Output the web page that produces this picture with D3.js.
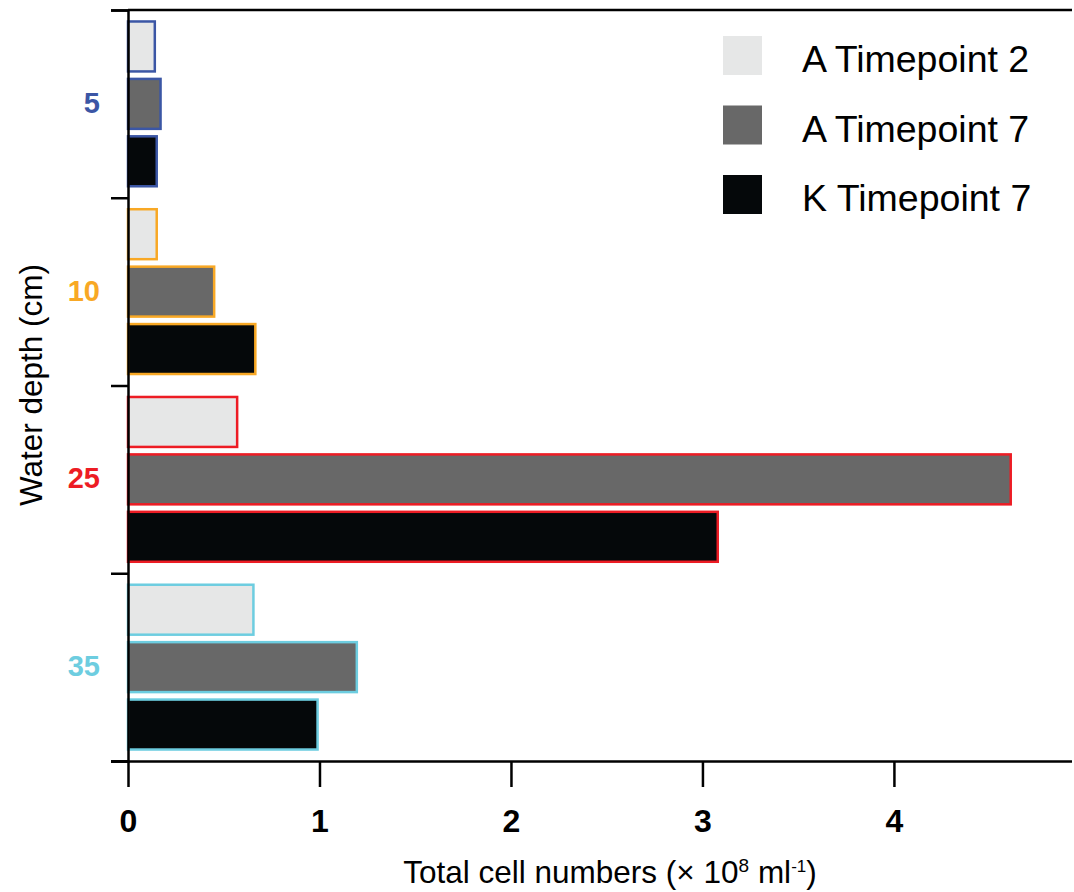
<!DOCTYPE html>
<html>
<head>
<meta charset="utf-8">
<script src="https://cdn.jsdelivr.net/npm/d3@7"></script>
<style>
  html, body { margin: 0; padding: 0; background: #fff; }
  svg { display: block; font-family: "Liberation Sans", Arial, Helvetica, sans-serif; }
</style>
</head>
<body>
<svg id="chart" width="1074" height="892"></svg>
<script>
// Water depth groups (cm) and their outline colours
const depths = ["5", "10", "25", "35"];
const depthColors = ["#3b56a5", "#f8a825", "#ed1c24", "#6dcde0"];

// Series
const seriesNames = ["A Timepoint 2", "A Timepoint 7", "K Timepoint 7"];
const seriesFills = ["#e6e7e7", "#686868", "#05080a"];

// Total cell numbers (x 10^8 per ml), one array per series, ordered as depths
const aTimepoint2 = [0.14, 0.15, 0.57, 0.655];
const aTimepoint7 = [0.17, 0.45, 4.61, 1.195];
const kTimepoint7 = [0.15, 0.665, 3.08, 0.99];
const seriesValues = [aTimepoint2, aTimepoint7, kTimepoint7];

const xTicks = [0, 1, 2, 3, 4];

const svg = d3.select("#chart");
const plotLeft = 128, plotRight = 1072, plotTop = 10, plotBottom = 761;

const x = d3.scaleLinear().domain([0, 4.93]).range([plotLeft, plotRight]);
const y = d3.scaleBand().domain(depths).range([plotTop, plotBottom]).padding(0);
const ySub = d3.scaleBand().domain(seriesNames).range([0, y.bandwidth()])
  .paddingInner(0.13).paddingOuter(0.2);
const color = d3.scaleOrdinal().domain(depths).range(depthColors);
const fill = d3.scaleOrdinal().domain(seriesNames).range(seriesFills);

// Bars
const rows = [];
depths.forEach((d, i) => {
  seriesNames.forEach((s, j) => rows.push({ depth: d, series: s, value: seriesValues[j][i] }));
});

svg.append("g").selectAll("rect").data(rows).join("rect")
  .attr("x", x(0))
  .attr("y", d => y(d.depth) + ySub(d.series))
  .attr("width", d => x(d.value) - x(0))
  .attr("height", ySub.bandwidth())
  .attr("fill", d => fill(d.series))
  .attr("stroke", d => color(d.depth))
  .attr("stroke-width", 2.5);

// Left axis: ticks at group boundaries
const yEdges = d3.scaleLinear().domain([0, depths.length]).range([plotTop, plotBottom]);
const yAxis = svg.append("g").attr("transform", `translate(${plotLeft},0)`)
  .call(d3.axisLeft(yEdges).tickValues(d3.range(depths.length + 1)).tickSize(17).tickFormat(""));
yAxis.selectAll("line, path").attr("stroke", "#000").attr("stroke-width", 2.5);

// Top rule
svg.append("line")
  .attr("x1", plotLeft).attr("x2", plotRight).attr("y1", plotTop).attr("y2", plotTop)
  .attr("stroke", "#000").attr("stroke-width", 2.5);

// Bottom axis
const xAxis = svg.append("g").attr("transform", `translate(0,${plotBottom})`)
  .call(d3.axisBottom(x).tickValues(xTicks).tickSize(26).tickSizeOuter(0).tickPadding(22).tickFormat(d3.format("d")));
xAxis.selectAll("line, path").attr("stroke", "#000").attr("stroke-width", 2.5);
xAxis.select(".domain").attr("d", `M${plotLeft - 17},0.5H${plotRight}`);
xAxis.selectAll("text")
  .attr("font-family", "'Liberation Sans', Arial, sans-serif")
  .attr("font-size", 32).attr("font-weight", "bold").attr("fill", "#000");

// Depth labels
svg.append("g").selectAll("text").data(depths).join("text")
  .attr("x", 100)
  .attr("y", d => y(d) + y.bandwidth() / 2 + 9)
  .attr("text-anchor", "end")
  .attr("font-size", 29).attr("font-weight", "bold")
  .attr("fill", d => color(d))
  .text(d => d);

// Axis titles
svg.append("text")
  .attr("transform", "translate(42,385) rotate(-90)")
  .attr("text-anchor", "middle")
  .attr("font-size", 31.5)
  .text("Water depth (cm)");

const xt = svg.append("text")
  .attr("x", 610).attr("y", 883)
  .attr("text-anchor", "middle")
  .attr("font-size", 31.5);
xt.append("tspan").text("Total cell numbers (× 10");
xt.append("tspan").attr("dy", -11).attr("font-size", 19).text("8");
xt.append("tspan").attr("dy", 11).text(" ml");
xt.append("tspan").attr("dy", -11).attr("font-size", 17).text("-1");
xt.append("tspan").attr("dy", 11).text(")");

// Legend
const legend = svg.append("g").selectAll("g").data(seriesNames).join("g")
  .attr("transform", (d, i) => `translate(723,${36 + i * 69.5})`);
legend.append("rect").attr("width", 39).attr("height", 39).attr("fill", d => fill(d));
legend.append("text").attr("x", 79).attr("y", 36)
  .attr("font-size", 37.5).attr("fill", "#000").text(d => d);
</script>
</body>
</html>
